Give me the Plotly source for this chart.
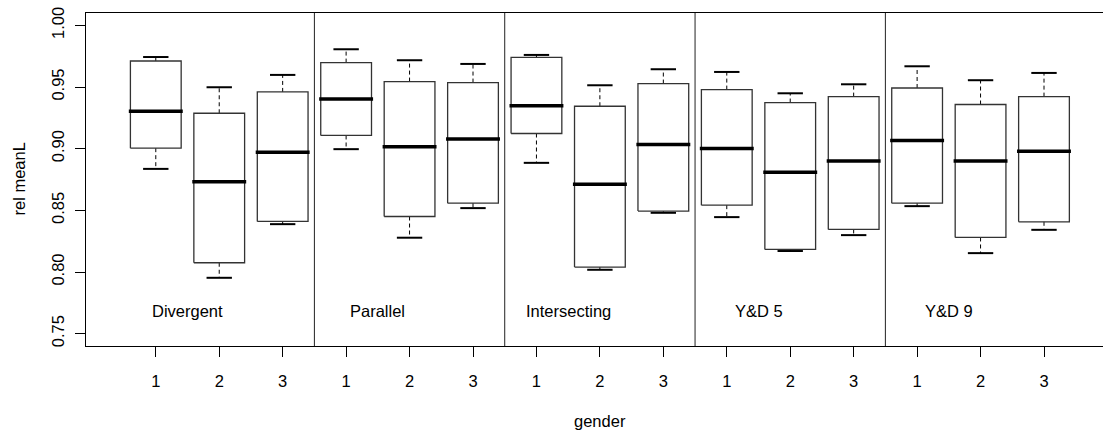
import plotly.graph_objects as go

# Five arrangement types, three gender codes each
groups = ["Divergent", "Parallel", "Intersecting", "Y&D 5", "Y&D 9"]
genders = ["1", "2", "3"]

# Five-number summaries per box (in plotting order, 15 boxes)
lower_whisker = [0.8836, 0.7953, 0.8388,
                 0.8996, 0.8278, 0.8518,
                 0.8885, 0.8018, 0.8480,
                 0.8445, 0.8170, 0.8299,
                 0.8534, 0.8153, 0.8342]
q1 = [0.9004, 0.8075, 0.8410,
      0.9107, 0.8450, 0.8558,
      0.9123, 0.8040, 0.8494,
      0.8542, 0.8183, 0.8345,
      0.8558, 0.8280, 0.8407]
median = [0.9303, 0.8731, 0.8971,
          0.9403, 0.9015, 0.9079,
          0.9347, 0.8712, 0.9034,
          0.9001, 0.8809, 0.8901,
          0.9066, 0.8901, 0.8980]
q3 = [0.9711, 0.9287, 0.9460,
      0.9698, 0.9544, 0.9536,
      0.9741, 0.9344, 0.9528,
      0.9479, 0.9374, 0.9422,
      0.9492, 0.9358, 0.9422]
upper_whisker = [0.9743, 0.9498, 0.9598,
                 0.9806, 0.9717, 0.9687,
                 0.9760, 0.9514, 0.9644,
                 0.9622, 0.9449, 0.9522,
                 0.9668, 0.9555, 0.9614]

y_ticks = [0.75, 0.80, 0.85, 0.90, 0.95, 1.00]

FONT = "Liberation Sans, Arial, sans-serif"
FS = 16.5
HALF_BOX = 0.4
HALF_STAPLE = 0.2
MED_EXT = 0.025

n = len(median)
pos = list(range(1, n + 1))

box_x, box_y = [], []
med_x, med_y = [], []
wh_x, wh_y = [], []
st_x, st_y = [], []
for i, p in enumerate(pos):
    box_x += [p - HALF_BOX, p + HALF_BOX, p + HALF_BOX, p - HALF_BOX, p - HALF_BOX, None]
    box_y += [q1[i], q1[i], q3[i], q3[i], q1[i], None]
    med_x += [p - HALF_BOX - MED_EXT, p + HALF_BOX + MED_EXT, None]
    med_y += [median[i], median[i], None]
    wh_x += [p, p, None, p, p, None]
    wh_y += [q3[i], upper_whisker[i], None, q1[i], lower_whisker[i], None]
    st_x += [p - HALF_STAPLE, p + HALF_STAPLE, None, p - HALF_STAPLE, p + HALF_STAPLE, None]
    st_y += [upper_whisker[i], upper_whisker[i], None, lower_whisker[i], lower_whisker[i], None]

fig = go.Figure()
fig.add_trace(go.Scatter(x=wh_x, y=wh_y, mode="lines",
                         line=dict(color="black", width=1, dash="4px,3px"),
                         hoverinfo="skip", showlegend=False))
fig.add_trace(go.Scatter(x=st_x, y=st_y, mode="lines",
                         line=dict(color="black", width=2),
                         hoverinfo="skip", showlegend=False))
fig.add_trace(go.Scatter(x=box_x, y=box_y, mode="lines",
                         line=dict(color="#333333", width=1.3),
                         hoverinfo="skip", showlegend=False))
fig.add_trace(go.Scatter(x=med_x, y=med_y, mode="lines",
                         line=dict(color="black", width=3.5),
                         hoverinfo="skip", showlegend=False))

# separators between arrangement groups and the group names
k = len(genders)
for g in range(1, len(groups)):
    fig.add_shape(type="line", xref="x", yref="paper",
                  x0=g * k + 0.5, x1=g * k + 0.5, y0=0, y1=1,
                  line=dict(color="#222222", width=1))
for g, name in enumerate(groups):
    fig.add_annotation(x=g * k + 1.5, y=0.768, xref="x", yref="y",
                       text=name, showarrow=False,
                       font=dict(family=FONT, size=FS, color="black"))

fig.add_annotation(x=0, y=0.5, xref="paper", yref="paper", xshift=-68,
                   xanchor="center", yanchor="middle",
                   text="rel meanL", textangle=-90, showarrow=False,
                   font=dict(family=FONT, size=FS, color="black"))
fig.add_annotation(x=8, y=0, xref="x", yref="paper", yshift=-75,
                   text="gender", showarrow=False, yanchor="middle",
                   font=dict(family=FONT, size=FS, color="black"))

fig.update_layout(
    width=1103, height=431,
    margin=dict(l=86, r=0, t=13, b=85),
    paper_bgcolor="white", plot_bgcolor="white",
    font=dict(family=FONT, size=FS, color="black"),
    xaxis=dict(range=[-0.1, 15.93], tickvals=pos,
               ticktext=genders * len(groups),
               ticks="outside", ticklen=10, tickcolor="black",
               showline=True, mirror=True, linecolor="black", linewidth=1,
               showgrid=False, zeroline=False, ticklabelstandoff=10,
               tickfont=dict(family=FONT, size=FS, color="black")),
    yaxis=dict(range=[0.74, 1.01], tickvals=y_ticks, tickformat=".2f",
               tickangle=-90, ticks="outside", ticklen=10, tickcolor="black",
               showline=True, mirror=False, linecolor="black", linewidth=1,
               showgrid=False, zeroline=False, ticklabelstandoff=4,
               tickfont=dict(family=FONT, size=FS, color="black")),
)

fig.write_html("out.html")
